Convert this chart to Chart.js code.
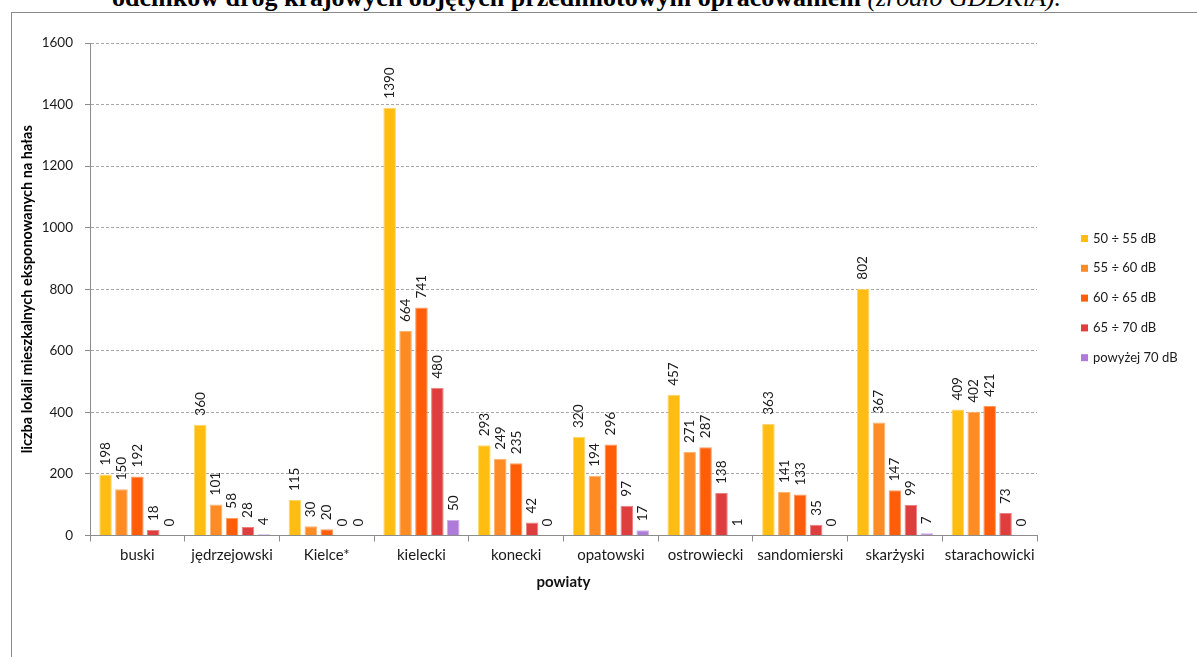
<!DOCTYPE html>
<html>
<head>
<meta charset="utf-8">
<script src="https://cdn.jsdelivr.net/npm/chart.js@4/dist/chart.umd.min.js"></script>
<style>
  html, body { margin: 0; padding: 0; background: #fff; overflow: hidden; }
  #frame { position: absolute; left: 11px; top: 12px; width: 1300px; height: 800px; border: 1px solid #8a8a8a; }
  #title { position: absolute; left: 112px; top: -15px; white-space: nowrap;
           font-family: "Liberation Serif", serif; font-size: 26px; line-height: 26px; font-weight: bold; color: #000; }
  #title i { font-weight: normal; }
  #noise { position: absolute; left: 0; top: 0; }
</style>
</head>
<body>
<div id="frame"></div>
<div id="title">odcinków dróg krajowych objętych przedmiotowym opracowaniem <i>(źródło GDDKiA).</i></div>
<canvas id="noise" width="1197" height="657"></canvas>
<script>
const powiaty = ['buski', 'jędrzejowski', 'Kielce*', 'kielecki', 'konecki', 'opatowski',
                 'ostrowiecki', 'sandomierski', 'skarżyski', 'starachowicki'];
const seriesNames = ['50 ÷ 55 dB', '55 ÷ 60 dB', '60 ÷ 65 dB', '65 ÷ 70 dB', 'powyżej 70 dB'];
const db50_55 = [198, 360, 115, 1390, 293, 320, 457, 363, 802, 409];
const db55_60 = [150, 101, 30, 664, 249, 194, 271, 141, 367, 402];
const db60_65 = [192, 58, 20, 741, 235, 296, 287, 133, 147, 421];
const db65_70 = [18, 28, 0, 480, 42, 97, 138, 35, 99, 73];
const dbAbove70 = [0, 4, 0, 50, 0, 17, 1, 0, 7, 0];
const yTicks = [0, 200, 400, 600, 800, 1000, 1200, 1400, 1600];

const colors = ['#FFBD12', '#FF8B24', '#FF5D07', '#DE3E3E', '#AE7CD8'];
const edges = ['#FFD66A', '#FFB36E', '#FF9A5C', '#EC8080', '#CDB0EA'];
const font = 'Lato, "Open Sans", sans-serif';

// value labels, rotated, above each bar
const valueLabels = {
    id: 'valueLabels',
    afterDatasetsDraw(chart) {
        const c = chart.ctx;
        c.save();
        c.font = '13.5px ' + font;
        c.fillStyle = '#1a1a1a';
        c.textAlign = 'left';
        c.textBaseline = 'middle';
        chart.data.datasets.forEach((ds, i) => {
            chart.getDatasetMeta(i).data.forEach((bar, j) => {
                c.save();
                c.translate(bar.x, bar.y - 9);
                c.rotate(-Math.PI / 2);
                c.fillText(String(ds.data[j]), 0, 0);
                c.restore();
            });
        });
        c.restore();
    }
};

// legend on the right
const sideLegend = {
    id: 'sideLegend',
    afterDraw(chart) {
        const c = chart.ctx;
        c.save();
        c.font = '13px ' + font;
        c.textBaseline = 'middle';
        chart.data.datasets.forEach((ds, i) => {
            const y = 238.5 + i * 29.8;
            c.fillStyle = ds.backgroundColor;
            c.fillRect(1081, y - 3.5, 7, 7);
            c.fillStyle = '#1a1a1a';
            c.fillText(ds.label, 1093, y);
        });
        c.restore();
    }
};

const ctx = document.getElementById('noise').getContext('2d');
const noiseChart = new Chart(ctx, {
    type: 'bar',
    data: {
        labels: powiaty,
        datasets: [db50_55, db55_60, db60_65, db65_70, dbAbove70].map((d, i) => ({
            label: seriesNames[i],
            data: d,
            backgroundColor: colors[i],
            borderColor: edges[i],
            borderWidth: 1,
            categoryPercentage: 0.84,
            barPercentage: 0.79
        }))
    },
    options: {
        responsive: false,
        animation: false,
        devicePixelRatio: 1,
        layout: { padding: { left: 0, right: 160, top: 43, bottom: 0 } },
        plugins: { legend: { display: false }, tooltip: { enabled: false } },
        scales: {
            x: {
                afterFit(scale) { scale.height = 121.5; },
                grid: { drawOnChartArea: false, drawTicks: true, tickLength: 6, color: '#8c8c8c', offset: true },
                border: { color: '#8c8c8c' },
                ticks: { color: '#1a1a1a', font: { family: font, size: 15 }, padding: 5, maxRotation: 0, autoSkip: false },
                title: { display: true, text: 'powiaty', color: '#111',
                         font: { family: font, size: 15, weight: 'bold' }, padding: { top: 0, bottom: 66 } }
            },
            y: {
                min: 0,
                max: 1600,
                afterFit(scale) { scale.width = 90; },
                afterBuildTicks(scale) { scale.ticks = yTicks.map(v => ({ value: v })); },
                grid: { color: '#a8a8a8', tickLength: 5, tickColor: '#8c8c8c' },
                border: { color: '#8c8c8c', dash: [3, 2] },
                ticks: { color: '#1a1a1a', font: { family: font, size: 13.5 }, padding: 12,
                         callback: v => String(v) },
                title: { display: true, text: 'liczba lokali mieszkalnych eksponowanych na hałas', color: '#000',
                         font: { family: font, size: 14.5, weight: 'bold' }, padding: { top: 19, bottom: 0 } }
            }
        }
    },
    plugins: [valueLabels, sideLegend]
});
</script>
</body>
</html>
